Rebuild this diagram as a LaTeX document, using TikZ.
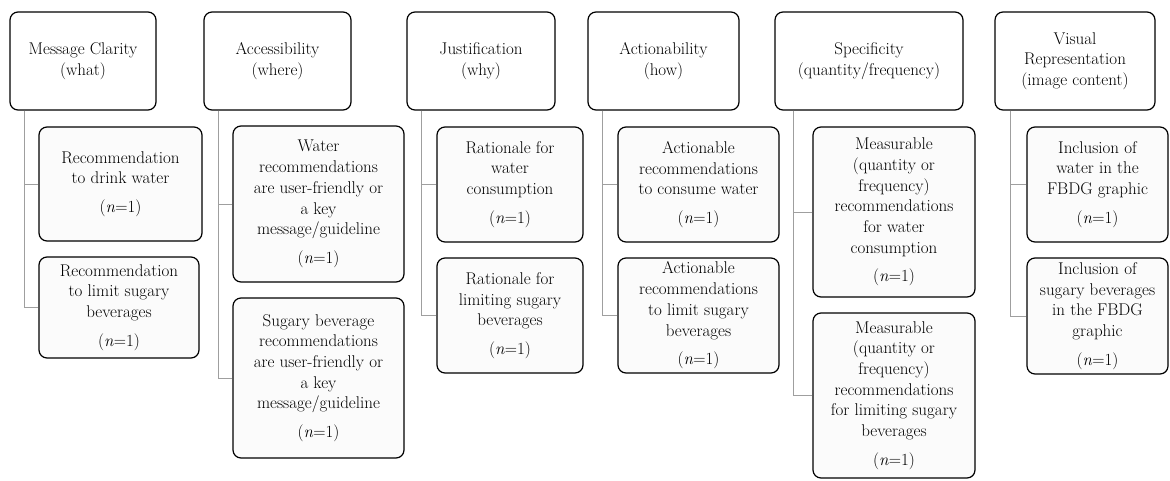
\documentclass[tikz,border=0pt]{standalone}
\usepackage{tikz}
\begin{document}
\begin{tikzpicture}[x=1pt, y=-1pt, font=\fontsize{17}{20.7}\selectfont,
  cabeza/.style={draw, rounded corners=8pt, line width=1.2pt, fill=white, align=center, inner sep=0pt},
  hijo/.style={cabeza, fill=gray!3},
  rama/.style={draw=gray!75, line width=0.8pt}]
\useasboundingbox (0,0) rectangle (1170,480);
% Nodos
% ---
% Cabezas
% ---
\node [cabeza, minimum width=146pt, minimum height=98pt] (A) at (83,61) {Message Clarity\\(what)};
\node [cabeza, minimum width=147pt, minimum height=98pt] (B) at (277.5,61) {Accessibility\\(where)};
\node [cabeza, minimum width=148pt, minimum height=98pt] (C) at (481,61) {Justification\\(why)};
\node [cabeza, minimum width=151pt, minimum height=98pt] (D) at (663.5,61) {Actionability\\(how)};
\node [cabeza, minimum width=188pt, minimum height=98pt] (E) at (869,61) {Specificity\\(quantity/frequency)};
\node [cabeza, minimum width=160pt, minimum height=98pt] (F) at (1075,61) {Visual\\Representation\\(image content)};
% ---
% Hijos
% ---
\node [hijo, minimum width=163pt, minimum height=114pt] (A1) at (120.5,184) {Recommendation\\to drink water\\[8pt](\textit{n}=1)};
\node [hijo, minimum width=160pt, minimum height=101pt] (A2) at (119,307.5) {Recommendation\\to limit sugary\\beverages\\[8pt](\textit{n}=1)};

\node [hijo, minimum width=171pt, minimum height=156pt] (B1) at (318.5,204) {Water\\recommendations\\are user-friendly or\\a key\\message/guideline\\[8pt](\textit{n}=1)};
\node [hijo, minimum width=171pt, minimum height=160pt] (B2) at (318.5,378) {Sugary beverage\\recommendations\\are user-friendly or\\a key\\message/guideline\\[8pt](\textit{n}=1)};

\node [hijo, minimum width=146pt, minimum height=115pt] (C1) at (510,184.5) {Rationale for\\water\\consumption\\[8pt](\textit{n}=1)};
\node [hijo, minimum width=146pt, minimum height=115pt] (C2) at (510,315.5) {Rationale for\\limiting sugary\\beverages\\[8pt](\textit{n}=1)};

\node [hijo, minimum width=161pt, minimum height=115pt] (D1) at (698.5,184.5) {Actionable\\recommendations\\to consume water\\[8pt](\textit{n}=1)};
\node [hijo, minimum width=161pt, minimum height=115pt] (D2) at (698.5,315.5) {Actionable\\recommendations\\to limit sugary\\beverages\\[8pt](\textit{n}=1)};

\node [hijo, minimum width=162pt, minimum height=170pt] (E1) at (894,212) {Measurable\\(quantity or\\frequency)\\recommendations\\for water\\consumption\\[8pt](\textit{n}=1)};
\node [hijo, minimum width=162pt, minimum height=165pt] (E2) at (894,395.5) {Measurable\\(quantity or\\frequency)\\recommendations\\for limiting sugary\\beverages\\[8pt](\textit{n}=1)};

\node [hijo, minimum width=141pt, minimum height=115pt] (F1) at (1097.5,184.5) {Inclusion of\\water in the\\FBDG graphic\\[8pt](\textit{n}=1)};
\node [hijo, minimum width=141pt, minimum height=116pt] (F2) at (1097.5,316) {Inclusion of\\sugary beverages\\in the FBDG\\graphic\\[8pt](\textit{n}=1)};
% Ramas
\draw [rama] ([xshift=15pt]A.south west) |- (A1.west);
\draw [rama] ([xshift=15pt]A.south west) |- (A2.west);
\draw [rama] ([xshift=15pt]B.south west) |- (B1.west);
\draw [rama] ([xshift=15pt]B.south west) |- (B2.west);
\draw [rama] ([xshift=15pt]C.south west) |- (C1.west);
\draw [rama] ([xshift=15pt]C.south west) |- (C2.west);
\draw [rama] ([xshift=15pt]D.south west) |- (D1.west);
\draw [rama] ([xshift=15pt]D.south west) |- (D2.west);
\draw [rama] ([xshift=19pt]E.south west) |- (E1.west);
\draw [rama] ([xshift=19pt]E.south west) |- (E2.west);
\draw [rama] ([xshift=16pt]F.south west) |- (F1.west);
\draw [rama] ([xshift=16pt]F.south west) |- (F2.west);
\end{tikzpicture}
\end{document}
